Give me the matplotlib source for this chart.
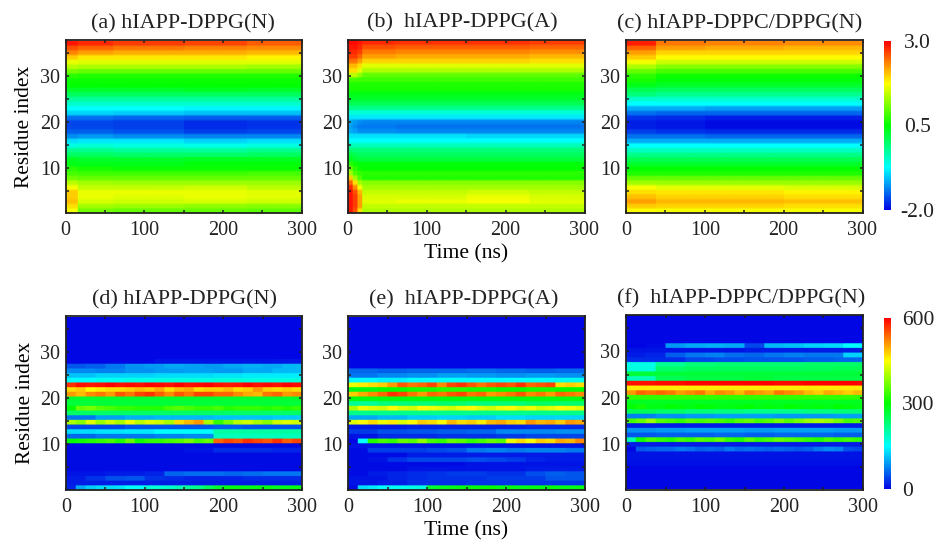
import numpy as np
import matplotlib
matplotlib.use('Agg')
import matplotlib.pyplot as plt
from matplotlib.colors import LinearSegmentedColormap
from matplotlib.ticker import MultipleLocator

plt.rcParams['font.family'] = ['Liberation Serif', 'DejaVu Serif']
plt.rcParams['text.color'] = '#222222'

W, H = 942, 544
titles = ['(a) hIAPP-DPPG(N)', '(b)  hIAPP-DPPG(A)', '(c) hIAPP-DPPC/DPPG(N)',
          '(d) hIAPP-DPPG(N)', '(e)  hIAPP-DPPG(A)', '(f)  hIAPP-DPPC/DPPG(N)']

# upper row: rows are residue 1..37, columns are the time blocks in *_edges
a_edges = [0, 15, 60, 150, 230, 300]
a_rows = [
    [1.7, 1.05, 1.0, 1.0, .95], [1.9, 1.3, 1.25, 1.2, 1.15], [2.05, 1.55, 1.5, 1.55, 1.5],
    [2.0, 1.65, 1.6, 1.65, 1.6], [2.0, 1.65, 1.65, 1.65, 1.6], [1.7, 1.45, 1.45, 1.5, 1.4],
    [1.4, 1.3, 1.25, 1.25, 1.25], [1.05, 1.0, 1.0, 1.0, 1.0], [.85, .8, .8, .8, .85],
    [.7, .6, .55, .55, .55], [.4, .4, .4, .45, .45], [.35, .3, .3, .35, .35],
    [.05, .05, 0, 0, .05], [-.2, -.2, -.25, -.25, -.2], [-.6, -.55, -.6, -.65, -.6],
    [-.9, -.85, -.85, -.95, -.9], [-1.3, -1.25, -1.3, -1.35, -1.35], [-1.55, -1.55, -1.6, -1.7, -1.65],
    [-1.65, -1.65, -1.7, -1.8, -1.75], [-1.65, -1.65, -1.7, -1.8, -1.75], [-1.45, -1.45, -1.5, -1.55, -1.55],
    [-.95, -.95, -1.0, -1.05, -1.05], [-.75, -.75, -.75, -.8, -.8], [-.5, -.5, -.5, -.5, -.5],
    [-.25, -.25, -.25, -.25, -.25], [.05, .05, .05, .05, .05], [.3, .3, .3, .35, .3],
    [.5, .5, .5, .5, .5], [.55, .55, .55, .55, .55], [.7, .65, .65, .65, .65],
    [1.05, 1.0, 1.0, 1.0, 1.0], [1.4, 1.35, 1.35, 1.35, 1.3], [1.65, 1.6, 1.6, 1.6, 1.6],
    [2.0, 1.85, 1.85, 1.85, 1.8], [2.35, 2.2, 2.15, 2.15, 2.1], [2.6, 2.5, 2.4, 2.35, 2.3],
    [2.9, 2.8, 2.7, 2.65, 2.55],
]

b_edges = [0, 6, 12, 18, 60, 150, 230, 300]
b_rows = [
    [2.9, 2.6, 1.9, 1.35, 1.35, 1.35, 1.35], [2.9, 2.7, 2.2, 1.45, 1.45, 1.45, 1.45], [2.9, 2.7, 2.2, 1.6, 1.65, 1.7, 1.6],
    [2.9, 2.7, 2.2, 1.55, 1.55, 1.65, 1.55], [2.9, 2.6, 2.1, 1.45, 1.45, 1.5, 1.45], [2.8, 2.3, 1.7, 1.3, 1.3, 1.3, 1.3],
    [2.5, 1.9, 1.3, 1.15, 1.15, 1.15, 1.15], [2.0, 1.3, .9, .65, .65, .65, .65], [1.3, .9, .75, .7, .7, .7, .7],
    [1.0, .7, .55, .5, .5, .5, .5], [.7, .55, .45, .45, .45, .45, .45], [.35, .25, .2, .2, .2, .2, .2],
    [.2, .1, .05, .05, .05, .05, .05], [-.05, -.1, -.1, -.1, -.1, -.1, -.1], [-.4, -.4, -.4, -.4, -.4, -.4, -.4],
    [-.75, -.75, -.75, -.75, -.75, -.75, -.75], [-.9, -.9, -.9, -.9, -.9, -.95, -.95], [-1.15, -1.2, -1.3, -1.3, -1.35, -1.35, -1.35],
    [-1.2, -1.3, -1.4, -1.4, -1.45, -1.45, -1.45], [-1.15, -1.25, -1.3, -1.35, -1.35, -1.35, -1.35], [-.85, -.85, -.85, -.85, -.85, -.85, -.85],
    [-.55, -.55, -.55, -.55, -.55, -.55, -.55], [-.15, -.15, -.15, -.15, -.15, -.15, -.15], [.1, .1, .1, .1, .1, .1, .1],
    [.3, .3, .3, .3, .3, .3, .3], [.4, .4, .4, .4, .4, .4, .4], [.6, .6, .6, .6, .6, .6, .6],
    [.65, .65, .65, .65, .65, .65, .65], [.85, .85, .8, .8, .8, .8, .8], [1.4, 1.4, 1.2, .95, .95, .95, .95],
    [1.9, 1.9, 1.6, 1.35, 1.35, 1.35, 1.35], [2.1, 2.1, 1.9, 1.6, 1.6, 1.6, 1.6], [2.45, 2.45, 2.2, 1.95, 1.95, 1.95, 1.9],
    [2.7, 2.7, 2.5, 2.2, 2.15, 2.15, 2.1], [2.8, 2.8, 2.7, 2.4, 2.35, 2.35, 2.3], [2.9, 2.9, 2.8, 2.6, 2.55, 2.55, 2.5],
    [2.95, 2.95, 2.9, 2.8, 2.75, 2.75, 2.7],
]

c_edges = [0, 38, 100, 200, 300]
c_rows = [
    [1.75, 1.7, 1.7, 1.7], [2.0, 1.95, 1.95, 1.9], [2.2, 2.1, 2.1, 2.05], [2.05, 1.95, 1.95, 1.9],
    [1.9, 1.85, 1.85, 1.8], [1.7, 1.6, 1.6, 1.55], [1.3, 1.25, 1.25, 1.25], [1.0, 1.0, 1.0, 1.0],
    [.65, .65, .65, .65], [.5, .5, .5, .5], [.3, .3, .3, .3], [.1, .1, .1, .1],
    [-.15, -.15, -.15, -.15], [-.45, -.45, -.45, -.45], [-.75, -.75, -.75, -.75], [-1.15, -1.15, -1.15, -1.15],
    [-1.45, -1.45, -1.5, -1.5], [-1.7, -1.75, -1.8, -1.8], [-1.85, -1.9, -1.95, -1.95], [-1.85, -1.9, -1.95, -1.95],
    [-1.75, -1.8, -1.85, -1.85], [-1.45, -1.5, -1.5, -1.5], [-1.15, -1.15, -1.2, -1.2], [-.75, -.75, -.75, -.75],
    [-.5, -.5, -.5, -.5], [-.1, -.2, -.2, -.2], [.1, .05, .05, .05], [.4, .3, .3, .3],
    [.6, .45, .45, .45], [.7, .55, .55, .55], [1.0, .85, .85, .85], [1.35, 1.15, 1.15, 1.15],
    [1.7, 1.5, 1.5, 1.5], [2.0, 1.75, 1.75, 1.75], [2.2, 1.95, 1.95, 1.95], [2.5, 2.2, 2.15, 2.1],
    [2.85, 2.4, 2.35, 2.3],
]

# lower row: rows are residue 1..37, values spread evenly over 0-300 ns
d_rows = [
    [20, 100, 120, 130, 130, 135, 150, 150, 170, 175, 180, 190, 210, 220, 250, 270, 290, 290, 285, 290, 290, 280, 285, 290],
    [15], [15, 30, 45, 50, 30, 25, 20, 20, 20, 25, 25, 25], [10, 10, 15, 15, 20, 60, 65, 65, 60, 65, 70, 70],
    [5], [5], [5], [5], [5, 5, 5, 5, 10, 25, 25, 20], [5],
    [300, 310, 320, 330, 340, 320, 360, 310, 330, 330, 340, 350, 370, 340, 360, 540, 560, 550, 570, 560, 550, 570, 545, 560],
    [60, 70, 70, 75, 80, 190, 190, 190], [130, 135, 140, 150, 150, 205, 205, 205], [40, 40, 50, 50, 50, 55, 50, 50],
    [400, 380, 430, 390, 420, 400, 440, 410, 430, 420, 400, 470, 490, 510, 400, 330, 370, 410, 420, 400, 380, 420, 430, 420],
    [70, 95, 105, 110, 110, 115, 115, 120], [240],
    [300, 360, 370, 350, 340, 330, 330, 320, 320, 320, 340, 350, 340, 330, 330, 340, 320, 330, 330, 330, 320, 330, 320, 330],
    [265], [270],
    [510, 490, 520, 530, 510, 550, 530, 560, 570, 545, 520, 550, 530, 560, 560, 540, 540, 520, 500, 490, 530, 540, 510, 520],
    [470, 480, 450, 460, 470, 470, 480, 490, 480, 500, 470, 490, 500, 470, 480, 480, 490, 470, 480, 510, 480, 470, 480, 470],
    [570, 590, 585, 590, 600, 590, 595, 590, 600, 595, 590, 600, 590, 595, 600, 590, 585, 590, 600, 590, 595, 590, 600, 595],
    [150, 160, 165, 170, 170, 175, 170, 170], [115, 125, 125, 130, 130, 135, 140, 140], [80, 75, 85, 90, 95, 90, 100, 110],
    [50, 55, 70, 85, 90, 100, 95, 90, 100, 105, 100, 110], [3, 3, 3, 10, 10, 10, 10, 12],
    [3], [3], [3], [3], [3], [3], [3], [3], [3],
]

e_rows = [
    [5, 130, 140, 150, 155, 160, 165, 170, 270, 280, 285, 290, 295, 295, 300, 290, 290, 285, 290, 290, 295, 290, 285, 290],
    [10, 15, 25, 25, 30, 30, 30, 30], [10, 10, 20, 25, 30, 30, 30, 35, 35, 35, 50, 50], [5, 15, 20, 25, 30, 35, 35, 30, 30, 45, 55, 50],
    [5, 10, 10, 15], [5, 10], [5, 10, 30, 40, 40, 40, 45, 40, 35, 20, 15, 15], [5, 15, 15, 15],
    [5, 35, 35, 35, 40, 45, 70, 75, 70, 75, 75, 70], [10],
    [0, 150, 320, 340, 330, 360, 350, 380, 340, 330, 360, 350, 330, 340, 360, 350, 440, 470, 450, 480, 470, 500, 490, 520],
    [10, 25, 25, 30, 30, 35, 40, 40], [35, 45, 50, 55, 60, 80, 80, 85], [15, 20, 20, 25],
    [430, 450, 470, 440, 460, 430, 450, 480, 470, 450, 490, 470, 480, 460, 490, 500, 480, 470, 510, 490, 500, 480, 510, 500],
    [100, 110, 120, 125, 120, 130, 125, 125], [220],
    [400, 440, 430, 420, 450, 430, 420, 450, 440, 430, 420, 440, 450, 430, 420, 440, 450, 430, 440, 420, 430, 450, 440, 430],
    [210, 225, 230, 235, 225, 230, 240, 235], [290],
    [480, 500, 520, 540, 570, 560, 530, 510, 540, 530, 550, 560, 530, 540, 510, 520, 530, 550, 520, 530, 510, 540, 530, 520],
    [290, 300, 310, 320, 310, 300, 310, 300],
    [440, 460, 470, 480, 510, 550, 530, 540, 560, 520, 560, 570, 550, 530, 550, 560, 550, 570, 540, 550, 560, 470, 480, 470],
    [150, 145, 150, 155, 150, 150, 155, 160], [70, 80, 85, 95, 90, 85, 90, 85], [60, 55, 60, 60, 65, 60, 55, 60],
    [3], [3], [3], [3], [3], [3], [3], [3], [3], [3], [3],
]

f_rows = [
    [3], [3], [3], [3], [3], [8], [10], [10],
    [0, 50, 55, 60, 60, 70, 65, 55, 60, 55, 70, 60, 65, 60, 55, 60, 55, 50, 55, 70, 80, 75, 45, 40],
    [15],
    [200, 310, 340, 330, 320, 340, 330, 350, 340, 360, 330, 320, 350, 330, 340, 360, 350, 340, 330, 320, 340, 330, 340, 330],
    [50, 55, 55, 60, 55, 60, 60, 55], [85, 90, 95, 95, 90, 95, 95, 90], [15],
    [340, 360, 390, 350, 340, 330, 350, 340, 350, 340, 330, 350, 360, 340, 350, 370, 350, 370, 390, 400, 390, 370, 340, 350],
    [75, 85, 90, 95, 95, 90, 90, 95], [250, 240, 230, 225, 220, 220, 225, 230],
    [300, 310, 290, 290, 300, 295, 290, 300, 295, 290, 290, 295, 300, 290, 295, 290, 300, 295, 290, 295, 290, 300, 295, 290],
    [280], [330],
    [510, 540, 530, 540, 530, 510, 520, 530, 500, 520, 510, 490, 520, 510, 500, 530, 520, 510, 490, 480, 500, 490, 480, 490],
    [460], [590, 595, 600, 600, 600, 595, 600, 600],
    [190, 250, 260, 260, 265, 260, 260, 260], [265], [170, 240, 250, 250, 250, 250, 250, 255],
    [165, 215, 230, 235, 235, 235, 240, 240], [25, 25, 40, 45, 50, 50, 55, 60],
    [15, 20, 55, 70, 75, 65, 60, 70, 75, 70, 70, 125], [10, 10, 15, 15], [0, 5, 90, 100, 105, 100, 40, 110, 115, 125, 130, 150],
    [3], [3], [3], [3], [3], [3],
]

x_ticks = [0, 100, 200, 300]
top_ticks = [-2.0, 0.5, 3.0]
top_labels = ['-2.0', '0.5', '3.0']
low_ticks = [0, 300, 600]


def by_edges(rows, edges):
    # blocks -> one column per ns, imshow needs an even grid
    idx = np.searchsorted(edges, np.arange(300) + 0.5) - 1
    return np.array(rows)[:, idx]


def by_blocks(rows):
    return np.array([np.repeat(r, 48 // len(r)) for r in rows])


def add_axes(x0, y0, x1, y1):
    return fig.add_axes([x0 / W, 1 - y1 / H, (x1 - x0) / W, (y1 - y0) / H])


cmap = LinearSegmentedColormap.from_list('bcgyr', ['#0004e4', '#00ffff', '#00ff00', '#ffff00', '#ff0000'], N=256)

fig = plt.figure(figsize=(W / 100, H / 100), dpi=100)

panels = [
    (by_edges(a_rows, a_edges), -2, 3, (65.5, 40, 301.5, 213), 183, 0.33),
    (by_edges(b_rows, b_edges), -2, 3, (347.5, 39.5, 584.5, 213), 462, 0.33),
    (by_edges(c_rows, c_edges), -2, 3, (626, 40, 862.5, 213), 740, 0.33),
    (by_blocks(d_rows), 0, 600, (66, 316, 302, 490), 184, 0.1),
    (by_blocks(e_rows), 0, 600, (348, 316, 585, 490), 463.5, 0.1),
    (by_blocks(f_rows), 0, 600, (626, 315, 863, 489.5), 741.5, 0.1),
]

for i, (data, vmin, vmax, box, title_x, y_low) in enumerate(panels):
    ax = add_axes(*box)
    # repeat rows so the smoothing only softens the edge of each band
    rep = 2 if i < 3 else 4
    shown = np.repeat(data, rep, axis=0)
    if i >= 3:
        shown = np.repeat(shown, 4, axis=1)
    ax.imshow(shown, origin='lower', aspect='auto', cmap=cmap, vmin=vmin, vmax=vmax,
              extent=(0, 300, y_low, 37.6), interpolation='bilinear', interpolation_stage='rgba')
    ax.set_xlim(0, 300)
    ax.set_ylim(y_low, 37.9)
    ax.set_xticks(x_ticks)
    ax.xaxis.set_minor_locator(MultipleLocator(50))
    ax.yaxis.set_major_locator(MultipleLocator(10))
    ax.yaxis.set_minor_locator(MultipleLocator(5))
    ax.tick_params(which='both', direction='in', top=True, right=True, length=2.5, width=1.1,
                   color='#222222', labelsize=14.5, labelcolor='#222222')
    ax.tick_params(axis='x', which='major', pad=6)
    ax.tick_params(axis='y', which='major', pad=4)
    for s in ax.spines.values():
        s.set_linewidth(1.3)
        s.set_color('#222222')
    title_y = 1 - (box[1] - 12) / H
    fig.text(title_x / W, title_y, titles[i], ha='center', va='baseline', fontsize=15.9)
    if i == 0 or i == 3:
        ax.set_ylabel('Residue index', fontsize=15.4, labelpad=4)
    if i == 1 or i == 4:
        ax.set_xlabel('Time (ns)', fontsize=15.6, labelpad=3)

# colorbars
cax = add_axes(884, 41, 891, 210)
cb = fig.colorbar(plt.cm.ScalarMappable(plt.Normalize(-2, 3), cmap), cax=cax, ticks=top_ticks)
cb.ax.set_yticklabels(top_labels)
cb.outline.set_visible(False)
cb.ax.tick_params(length=0, labelsize=15.5, labelcolor='#222222', pad=19)
for t in cb.ax.get_yticklabels():
    t.set_ha('center')

cax = add_axes(884, 318, 891, 489)
cb = fig.colorbar(plt.cm.ScalarMappable(plt.Normalize(0, 600), cmap), cax=cax, ticks=low_ticks)
cb.outline.set_visible(False)
cb.ax.tick_params(length=0, labelsize=15.5, labelcolor='#222222', pad=8)

fig.savefig('out.png', dpi=100)
